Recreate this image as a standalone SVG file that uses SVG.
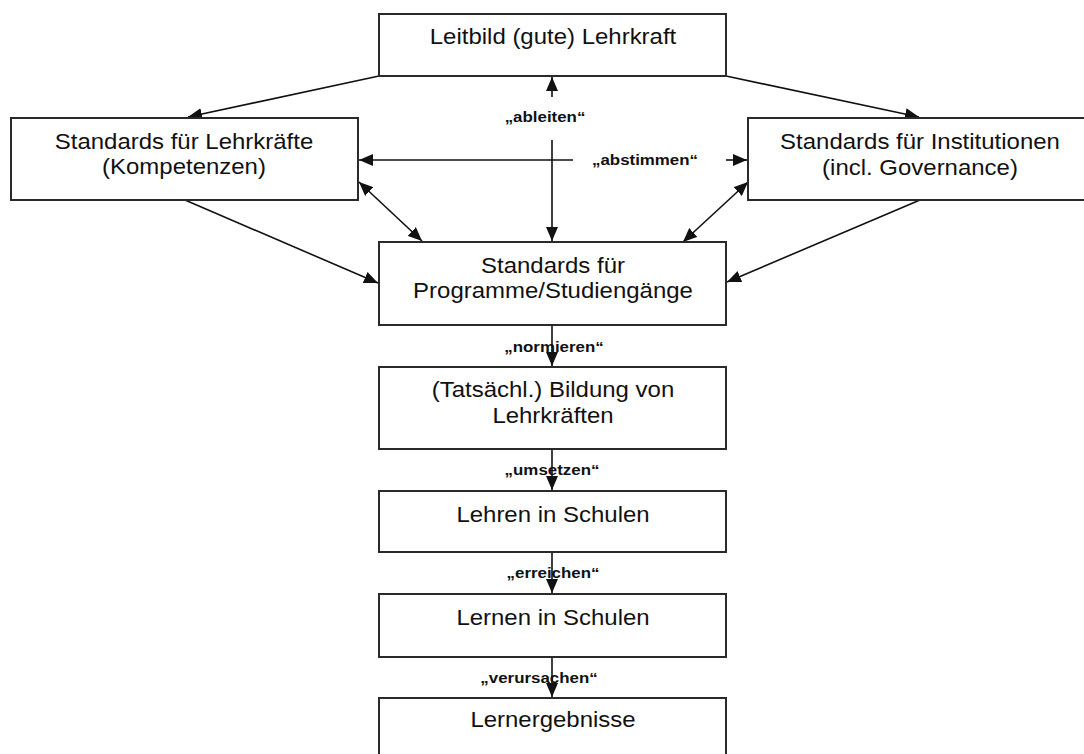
<svg xmlns="http://www.w3.org/2000/svg" width="1084" height="754" viewBox="0 0 1084 754">
  <style>
    .box { fill: #ffffff; stroke: #2a2a2a; stroke-width: 2; }
    .txt { font-family: "Liberation Sans", Arial, sans-serif; font-size: 22px; fill: #111; text-anchor: middle; }
    .lbl { font-family: "Liberation Sans", Arial, sans-serif; font-size: 15.5px; font-weight: bold; fill: #111; text-anchor: middle; }
    .con { fill: none; stroke: #111; stroke-width: 1.6; }
  </style>
  <defs>
    <marker id="arrow" viewBox="0 0 14 12" refX="14" refY="6" markerWidth="14" markerHeight="12" markerUnits="userSpaceOnUse" orient="auto-start-reverse">
      <path d="M0,0 L14,6 L0,12 Z" fill="#111"/>
    </marker>
  </defs>

  <rect width="1084" height="754" fill="#ffffff"/>

  <!-- connectors -->
  <g id="connectors">
    <path class="con" d="M379,76 L188,117" marker-end="url(#arrow)"/>
    <path class="con" d="M726,76 L919,117" marker-end="url(#arrow)"/>
    <path class="con" d="M185,200 L378,283" marker-end="url(#arrow)"/>
    <path class="con" d="M920,200 L727,282" marker-end="url(#arrow)"/>
    <path class="con" d="M359,182 L422,241" marker-start="url(#arrow)" marker-end="url(#arrow)"/>
    <path class="con" d="M748,182 L683,242" marker-start="url(#arrow)" marker-end="url(#arrow)"/>
    <path class="con" d="M573,160 L359,160" marker-end="url(#arrow)"/>
    <path class="con" d="M726,160 L747,160" marker-end="url(#arrow)"/>
    <path class="con" d="M552,97 L552,77" marker-end="url(#arrow)"/>
    <path class="con" d="M552,140 L552,241" marker-end="url(#arrow)"/>
    <path class="con" d="M552,325 L552,366" marker-end="url(#arrow)"/>
    <path class="con" d="M552,449 L552,490" marker-end="url(#arrow)"/>
    <path class="con" d="M552,552 L552,593" marker-end="url(#arrow)"/>
    <path class="con" d="M552,657 L552,697" marker-end="url(#arrow)"/>
    <text class="lbl" transform="translate(545,122) scale(1.09,1)">„ableiten“</text>
    <text class="lbl" transform="translate(645,165) scale(1.09,1)">„abstimmen“</text>
    <text class="lbl" transform="translate(554,352) scale(1.09,1)">„normieren“</text>
    <text class="lbl" transform="translate(552,475) scale(1.09,1)">„umsetzen“</text>
    <text class="lbl" transform="translate(553,578) scale(1.09,1)">„erreichen“</text>
    <text class="lbl" transform="translate(539,683) scale(1.09,1)">„verursachen“</text>
  </g>

  <g id="leitbild">
    <rect class="box" x="379" y="14" width="347" height="62"/>
    <text class="txt" transform="translate(553,44) scale(1.09,1)">Leitbild (gute) Lehrkraft</text>
  </g>

  <g id="standards-lehrkraefte">
    <rect class="box" x="11" y="118" width="347" height="82"/>
    <text class="txt" transform="translate(184,149) scale(1.09,1)">Standards für Lehrkräfte</text>
    <text class="txt" transform="translate(184,174) scale(1.09,1)">(Kompetenzen)</text>
  </g>

  <g id="standards-institutionen">
    <rect class="box" x="748" y="118" width="347" height="82"/>
    <text class="txt" transform="translate(920,149) scale(1.09,1)">Standards für Institutionen</text>
    <text class="txt" transform="translate(920,175) scale(1.09,1)">(incl. Governance)</text>
  </g>

  <g id="standards-programme">
    <rect class="box" x="379" y="242" width="347" height="83"/>
    <text class="txt" transform="translate(553,273) scale(1.09,1)">Standards für</text>
    <text class="txt" transform="translate(553,298) scale(1.09,1)">Programme/Studiengänge</text>
  </g>

  <g id="bildung">
    <rect class="box" x="379" y="367" width="347" height="82"/>
    <text class="txt" transform="translate(553,397) scale(1.09,1)">(Tatsächl.) Bildung von</text>
    <text class="txt" transform="translate(553,423) scale(1.09,1)">Lehrkräften</text>
  </g>

  <g id="lehren">
    <rect class="box" x="379" y="491" width="347" height="61"/>
    <text class="txt" transform="translate(553,522) scale(1.09,1)">Lehren in Schulen</text>
  </g>

  <g id="lernen">
    <rect class="box" x="379" y="594" width="347" height="63"/>
    <text class="txt" transform="translate(553,625) scale(1.09,1)">Lernen in Schulen</text>
  </g>

  <g id="lernergebnisse">
    <rect class="box" x="379" y="698" width="347" height="70"/>
    <text class="txt" transform="translate(553,727) scale(1.09,1)">Lernergebnisse</text>
  </g>
</svg>
